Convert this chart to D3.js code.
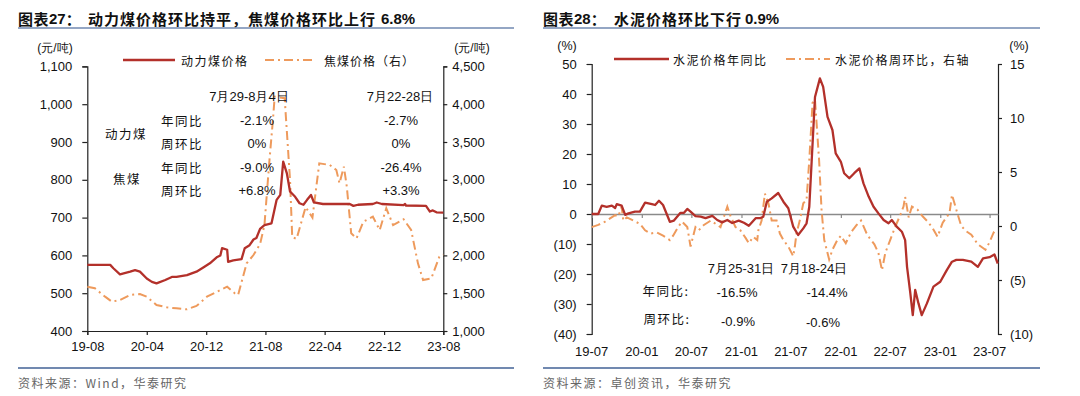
<!DOCTYPE html>
<html><head><meta charset="utf-8">
<script src="https://cdn.jsdelivr.net/npm/d3@7"></script>
<style>
body{margin:0;background:#fff;}
svg{display:block;font-family:"Liberation Sans",Arial,"Noto Sans CJK SC",sans-serif;}
</style></head><body>
<svg id="c" width="1080" height="396"></svg>
<script>
// ---------- DATA: chart 27 (coal) ----------
const thermalDates = ["2019-08-01","2019-11-03","2019-11-16","2019-12-13","2020-01-24","2020-02-13","2020-03-04","2020-04-01","2020-04-22","2020-05-11","2020-06-16","2020-07-13","2020-08-01","2020-09-13","2020-10-22","2020-11-19","2020-12-16","2021-01-13","2021-01-28","2021-02-04","2021-02-25","2021-03-01","2021-03-22","2021-04-25","2021-05-08","2021-05-28","2021-06-13","2021-06-25","2021-07-10","2021-07-28","2021-08-26","2021-09-16","2021-10-01","2021-10-13","2021-10-28","2021-11-10","2021-12-01","2021-12-19","2022-01-04","2022-01-19","2022-02-04","2022-02-16","2022-03-25","2022-07-13","2022-07-28","2022-08-16","2022-10-16","2022-11-01","2022-11-22","2023-02-19","2023-02-25","2023-03-01","2023-05-22","2023-06-07","2023-06-19","2023-07-04","2023-08-01"];
const thermalPrice = [575,575,566,550,557,561,557,539,530,526,535,543,543,548,557,568,579,595,600,619,615,583,587,590,619,627,642,646,670,680,685,747,760,848,817,769,755,738,734,747,760,740,736,736,731,734,736,740,736,733,736,732,731,716,719,714,713];
const cokingDates = ["2019-08-01","2019-09-01","2019-10-13","2019-11-10","2019-12-13","2020-01-24","2020-03-04","2020-04-01","2020-05-11","2020-06-22","2020-08-01","2020-09-13","2020-10-22","2020-12-04","2021-01-01","2021-02-25","2021-03-28","2021-04-11","2021-05-01","2021-05-16","2021-06-13","2021-07-10","2021-07-28","2021-08-16","2021-09-01","2021-09-08","2021-10-19","2021-11-10","2021-11-19","2021-12-07","2022-01-13","2022-02-10","2022-03-10","2022-04-22","2022-05-19","2022-06-01","2022-06-19","2022-07-01","2022-07-19","2022-08-10","2022-09-07","2022-10-16","2022-11-13","2022-12-10","2023-01-07","2023-02-19","2023-03-22","2023-04-19","2023-05-10","2023-06-13","2023-07-16","2023-08-01"];
const cokingPrice = [1586,1565,1454,1388,1410,1476,1490,1454,1344,1313,1300,1287,1331,1454,1499,1586,1499,1476,1718,1895,2005,2150,2400,3200,3800,4100,4080,3000,2240,2220,2640,2500,3218,3196,3130,2954,3174,2909,2292,2226,2446,2512,2336,2623,2402,2478,2336,1895,1675,1697,1983,2010];
const coalTickLabels = ["19-08","20-04","20-12","21-08","22-04","22-12","23-08"];
const coalLeftTicks = [400,500,600,700,800,900,1000,1100];
const coalRightTicks = [1000,1500,2000,2500,3000,3500,4000,4500];

// ---------- DATA: chart 28 (cement) ----------
const cementYoYDates = ["2019-07-01","2019-07-25","2019-08-07","2019-08-25","2019-09-13","2019-09-25","2019-10-01","2019-10-19","2019-11-01","2019-11-13","2019-12-07","2019-12-25","2020-01-13","2020-02-07","2020-02-19","2020-03-04","2020-03-19","2020-04-13","2020-04-28","2020-05-22","2020-06-04","2020-06-16","2020-06-28","2020-07-16","2020-08-04","2020-08-22","2020-09-16","2020-10-04","2020-10-22","2020-11-10","2020-11-28","2020-12-22","2021-01-10","2021-01-28","2021-02-22","2021-03-10","2021-03-22","2021-04-04","2021-04-22","2021-05-16","2021-06-04","2021-06-22","2021-07-10","2021-07-28","2021-08-16","2021-08-28","2021-09-07","2021-09-16","2021-09-28","2021-10-16","2021-10-28","2021-11-13","2021-12-01","2021-12-13","2022-01-01","2022-01-13","2022-02-01","2022-02-19","2022-03-10","2022-03-25","2022-04-13","2022-05-01","2022-05-19","2022-06-07","2022-06-25","2022-07-07","2022-07-25","2022-08-13","2022-08-25","2022-09-01","2022-09-13","2022-09-22","2022-10-01","2022-10-13","2022-10-25","2022-11-13","2022-12-07","2023-01-01","2023-01-25","2023-02-13","2023-03-01","2023-03-25","2023-04-25","2023-05-19","2023-06-07","2023-07-01","2023-07-19","2023-07-31"];
const cementYoY = [0,0,2.8,2.4,2.8,2.0,3.3,2.8,-0.3,0.2,0.8,0.8,3.8,3.3,3.0,4.4,3.0,-2.6,-2.2,0.4,0.4,1.7,0.8,-0.7,-0.9,-1.4,-0.6,-2.0,-2.8,-2.0,-3.0,-2.2,-2.9,-3.9,-1.4,-1.4,-0.9,4.1,5.2,7.0,4.1,1.9,-4.2,-7.0,-4.8,-3.1,2.4,18,39,45.2,42.4,32.4,28,20.2,17.4,13.6,11.9,13.6,15.2,10.2,5.8,2.4,0.2,-2.0,-3.1,-2.0,-4.2,-5.9,-8.7,-17.6,-26.4,-33.7,-25.3,-29.8,-33.7,-29.8,-24.2,-22.6,-18.7,-15.9,-15.3,-15.3,-15.9,-17.6,-14.8,-14.4,-13.5,-16.5];
const cementWoWDates = ["2019-07-01","2019-07-25","2019-08-19","2019-09-25","2019-10-07","2019-10-19","2019-10-25","2019-11-07","2019-12-01","2019-12-25","2020-01-13","2020-02-01","2020-02-25","2020-03-19","2020-04-13","2020-04-25","2020-05-13","2020-05-28","2020-06-16","2020-06-28","2020-07-16","2020-07-28","2020-08-16","2020-09-10","2020-09-28","2020-10-16","2020-11-10","2020-11-22","2020-12-10","2020-12-28","2021-01-16","2021-01-28","2021-02-13","2021-02-28","2021-03-04","2021-03-16","2021-03-28","2021-04-10","2021-04-22","2021-05-10","2021-05-22","2021-06-04","2021-06-22","2021-07-10","2021-07-16","2021-07-22","2021-08-04","2021-08-16","2021-08-28","2021-09-07","2021-09-19","2021-09-28","2021-10-13","2021-10-22","2021-11-01","2021-11-19","2021-12-01","2021-12-19","2022-01-01","2022-01-19","2022-02-07","2022-02-28","2022-03-16","2022-04-04","2022-04-16","2022-05-04","2022-05-19","2022-06-01","2022-06-13","2022-07-01","2022-07-19","2022-08-07","2022-08-19","2022-08-25","2022-09-07","2022-09-19","2022-10-10","2022-10-28","2022-11-16","2022-12-04","2022-12-22","2023-01-10","2023-02-04","2023-02-13","2023-03-01","2023-03-19","2023-04-07","2023-04-25","2023-05-19","2023-06-16","2023-07-01","2023-07-16","2023-07-31"];
const cementWoW = [-0.1,0.1,0.4,1.0,0.9,1.8,0.5,0.8,0.5,0.2,-0.4,-0.7,-0.6,-0.9,-1.3,-0.9,-0.1,0.4,-0.1,-1.9,-0.1,-0.4,0.1,0.5,0.2,-0.1,1.8,0.9,-0.1,-0.4,-1.1,-1.6,-1.0,-1.3,-0.4,0.5,3.0,2.1,0.5,0.5,-0.7,-1.3,-1.9,-2.8,-1.9,-0.7,0.6,2.1,2.4,6.1,11.4,11.7,6.1,1.5,-1.3,-3.1,-2.2,-1.3,-0.9,-1.6,-0.6,0.1,0.5,-0.6,-1.1,-1.7,-2.5,-4.1,-2.5,-1.3,-0.1,1.0,1.8,2.7,0.8,1.8,1.5,0.9,0.4,-0.2,-1.0,0.3,1.2,2.9,1.5,0,-0.5,-0.8,-1.7,-2.2,-1.5,-0.6,-0.9];
const cementTickLabels = ["19-07","20-01","20-07","21-01","21-07","22-01","22-07","23-01","23-07"];
const cementLeftTicks = [-40,-30,-20,-10,0,10,20,30,40,50];
const cementRightTicks = [-10,-5,0,5,10,15];

// ---------- helpers ----------
const RED = "#B3302A", ORANGE = "#EE9A5C", BLUE = "#7189B0";
const DASH = "9,4,2,4";
const CJK = '"Noto Sans CJK SC","Liberation Sans",sans-serif';
const NUM = '"Liberation Sans",Arial,sans-serif';
const pDate = d3.timeParse("%Y-%m-%d");
const pTick = d3.timeParse("%y-%m");
const fmtTick = d3.timeFormat("%y-%m");
const paren = d => d < 0 ? `(${-d})` : `${d}`;
const svg = d3.select("#c");

function styleAxis(g, color) {
  g.select(".domain").attr("stroke", color).attr("stroke-width", 1.2);
  g.selectAll(".tick line").attr("stroke", color).attr("stroke-width", 1.2);
  g.selectAll(".tick text").attr("fill", "#111").style("font-family", NUM).style("font-size", "13px");
}
function txt(x, y, s, opt = {}) {
  return svg.append("text").attr("x", x).attr("y", y).text(s)
    .attr("text-anchor", opt.anchor || "start")
    .attr("dominant-baseline", "central")
    .style("font-family", opt.font || NUM)
    .style("font-size", (opt.size || 13) + "px")
    .style("font-weight", opt.weight || "normal")
    .style("letter-spacing", (opt.ls || 0) + "px")
    .attr("fill", opt.fill || "#111");
}

// ---------- titles / frame ----------
function title(x, x2, num, rest, x3, pct) {
  const t = svg.append("text").attr("x", x).attr("y", 18).attr("dominant-baseline", "central")
    .style("font-family", CJK).style("font-weight", "bold").style("font-size", "15px").attr("fill", "#111");
  t.append("tspan").text("图表").style("letter-spacing", "0.5px");
  t.append("tspan").text(num).style("font-family", NUM);
  t.append("tspan").text("：");
  t.append("tspan").attr("x", x2).text(rest).style("letter-spacing", "1px");
  t.append("tspan").attr("x", x3).text(pct).style("font-family", NUM).style("letter-spacing", "0px");
}
title(18, 88, "27", "动力煤价格环比持平，焦煤价格环比上行", 381, "6.8%");
title(543, 614, "28", "水泥价格环比下行", 745, "0.9%");
[[18, 514], [543, 1040]].forEach(([a, b]) => {
  svg.append("line").attr("x1", a).attr("x2", b).attr("y1", 28).attr("y2", 28).attr("stroke", BLUE).attr("stroke-width", 1.5);
  svg.append("line").attr("x1", a).attr("x2", b).attr("y1", 368).attr("y2", 368).attr("stroke", BLUE).attr("stroke-width", 2);
});
txt(18, 382, "资料来源：Wind，华泰研究", {font: CJK, size: 12, fill: "#666", ls: 1.5});
txt(543, 382, "资料来源：卓创资讯，华泰研究", {font: CJK, size: 12, fill: "#666", ls: 1.5});

// ---------- chart 27 ----------
{
  const L = 87.3, R = 443.3, T = 66.4, B = 331;
  const x = d3.scaleTime().domain([pTick("19-08"), pTick("23-08")]).range([L, R]);
  const yL = d3.scaleLinear().domain([400, 1100]).range([B, T]);
  const yR = d3.scaleLinear().domain([1000, 4500]).range([B, T]);

  const gx = svg.append("g").attr("transform", `translate(0,${B})`)
    .call(d3.axisBottom(x).tickValues(coalTickLabels.map(pTick)).tickSize(4).tickPadding(7).tickFormat(fmtTick));
  styleAxis(gx, "#222");
  const gl = svg.append("g").attr("transform", `translate(${L},0)`)
    .call(d3.axisLeft(yL).tickValues(coalLeftTicks).tickSize(5).tickPadding(10).tickSizeOuter(5).tickFormat(d3.format(",")));
  styleAxis(gl, "#222");
  const gr = svg.append("g").attr("transform", `translate(${R},0)`)
    .call(d3.axisRight(yR).tickValues(coalRightTicks).tickSize(4).tickPadding(5).tickSizeOuter(4).tickFormat(d3.format(",")));
  styleAxis(gr, "#222");

  const coking = cokingDates.map((d, i) => [pDate(d), cokingPrice[i]]);
  const thermal = thermalDates.map((d, i) => [pDate(d), thermalPrice[i]]);
  svg.append("path").datum(coking).attr("fill", "none").attr("stroke", ORANGE).attr("stroke-width", 2)
    .attr("stroke-dasharray", DASH).attr("d", d3.line().x(d => x(d[0])).y(d => yR(d[1])));
  svg.append("path").datum(thermal).attr("fill", "none").attr("stroke", RED).attr("stroke-width", 2.3)
    .attr("stroke-linejoin", "round").attr("d", d3.line().x(d => x(d[0])).y(d => yL(d[1])));

  txt(55, 48, "(元/吨)", {anchor: "middle", size: 12});
  txt(472, 48, "(元/吨)", {anchor: "middle", size: 12});
  // legend
  svg.append("line").attr("x1", 123).attr("x2", 175).attr("y1", 60).attr("y2", 60).attr("stroke", RED).attr("stroke-width", 2.5);
  txt(181, 60, "动力煤价格", {font: CJK, size: 12, ls: 1.5});
  svg.append("line").attr("x1", 265).attr("x2", 316).attr("y1", 60).attr("y2", 60).attr("stroke", ORANGE).attr("stroke-width", 2).attr("stroke-dasharray", DASH);
  txt(324, 60, "焦煤价格（右）", {font: CJK, size: 12, ls: 1});
  // annotation table
  txt(249, 96, "7月29-8月4日", {anchor: "middle", size: 13});
  txt(400, 96, "7月22-28日", {anchor: "middle", size: 13});
  txt(126, 133, "动力煤", {anchor: "middle", font: CJK, size: 12.5, ls: 1.5});
  txt(127, 178, "焦煤", {anchor: "middle", font: CJK, size: 12.5, ls: 1.5});
  const rowsY = [120, 143, 167, 190];
  const rowNames = ["年同比", "周环比", "年同比", "周环比"];
  const colA = ["-2.1%", "0%", "-9.0%", "+6.8%"];
  const colB = ["-2.7%", "0%", "-26.4%", "+3.3%"];
  rowsY.forEach((y, i) => {
    txt(182, y, rowNames[i], {anchor: "middle", font: CJK, size: 12.5, ls: 1.5});
    txt(257, y, colA[i], {anchor: "middle"});
    txt(401, y, colB[i], {anchor: "middle"});
  });
}

// ---------- chart 28 ----------
{
  const L = 591.7, R = 998, T = 64, B = 334;
  const x = d3.scaleTime().domain([pTick("19-07"), pTick("23-08")]).range([L, R]);
  const yL = d3.scaleLinear().domain([-40, 50]).range([B, T]);
  const yR = d3.scaleLinear().domain([-10, 15]).range([B, T]);

  const gl = svg.append("g").attr("transform", `translate(${L},0)`)
    .call(d3.axisLeft(yL).tickValues(cementLeftTicks).tickSize(5).tickPadding(10).tickSizeOuter(5).tickFormat(paren));
  styleAxis(gl, "#222");
  const gr = svg.append("g").attr("transform", `translate(${R},0)`)
    .call(d3.axisRight(yR).tickValues(cementRightTicks).tickSize(4).tickPadding(8).tickSizeOuter(4).tickFormat(paren));
  styleAxis(gr, "#222");
  // zero line with ticks, labels at bottom
  const gz = svg.append("g").attr("transform", `translate(0,${yL(0)})`)
    .call(d3.axisBottom(x).tickValues(cementTickLabels.map(pTick)).tickSize(4).tickSizeOuter(0).tickFormat(""));
  gz.select(".domain").attr("stroke", "#8a8a8a").attr("stroke-width", 1.5);
  gz.selectAll(".tick line").attr("stroke", "#8a8a8a").attr("stroke-width", 1.2);
  cementTickLabels.forEach(s => txt(x(pTick(s)), 351, s, {anchor: "middle"}));

  const wow = cementWoWDates.map((d, i) => [pDate(d), cementWoW[i]]);
  const yoy = cementYoYDates.map((d, i) => [pDate(d), cementYoY[i]]);
  svg.append("path").datum(wow).attr("fill", "none").attr("stroke", ORANGE).attr("stroke-width", 2)
    .attr("stroke-dasharray", DASH).attr("d", d3.line().x(d => x(d[0])).y(d => yR(d[1])));
  svg.append("path").datum(yoy).attr("fill", "none").attr("stroke", RED).attr("stroke-width", 2.3)
    .attr("stroke-linejoin", "round").attr("d", d3.line().x(d => x(d[0])).y(d => yL(d[1])));

  txt(567, 46, "(%)", {anchor: "middle", size: 12.5});
  txt(1019, 46, "(%)", {anchor: "middle", size: 12.5});
  svg.append("line").attr("x1", 614).attr("x2", 669).attr("y1", 59).attr("y2", 59).attr("stroke", RED).attr("stroke-width", 2.5);
  txt(673, 59, "水泥价格年同比", {font: CJK, size: 12, ls: 1.5});
  svg.append("line").attr("x1", 786).attr("x2", 830).attr("y1", 59).attr("y2", 59).attr("stroke", ORANGE).attr("stroke-width", 2).attr("stroke-dasharray", DASH);
  txt(835, 59, "水泥价格周环比，右轴", {font: CJK, size: 12, ls: 1.5});

  txt(741, 268, "7月25-31日", {anchor: "middle"});
  txt(814, 268, "7月18-24日", {anchor: "middle"});
  txt(666, 290, "年同比:", {anchor: "middle", font: CJK, size: 12.5, ls: 1.5});
  txt(667, 318, "周环比:", {anchor: "middle", font: CJK, size: 12.5, ls: 1.5});
  txt(737, 292, "-16.5%", {anchor: "middle"});
  txt(827, 292, "-14.4%", {anchor: "middle"});
  txt(738, 321, "-0.9%", {anchor: "middle"});
  txt(823, 322, "-0.6%", {anchor: "middle"});
}
</script>
</body></html>
